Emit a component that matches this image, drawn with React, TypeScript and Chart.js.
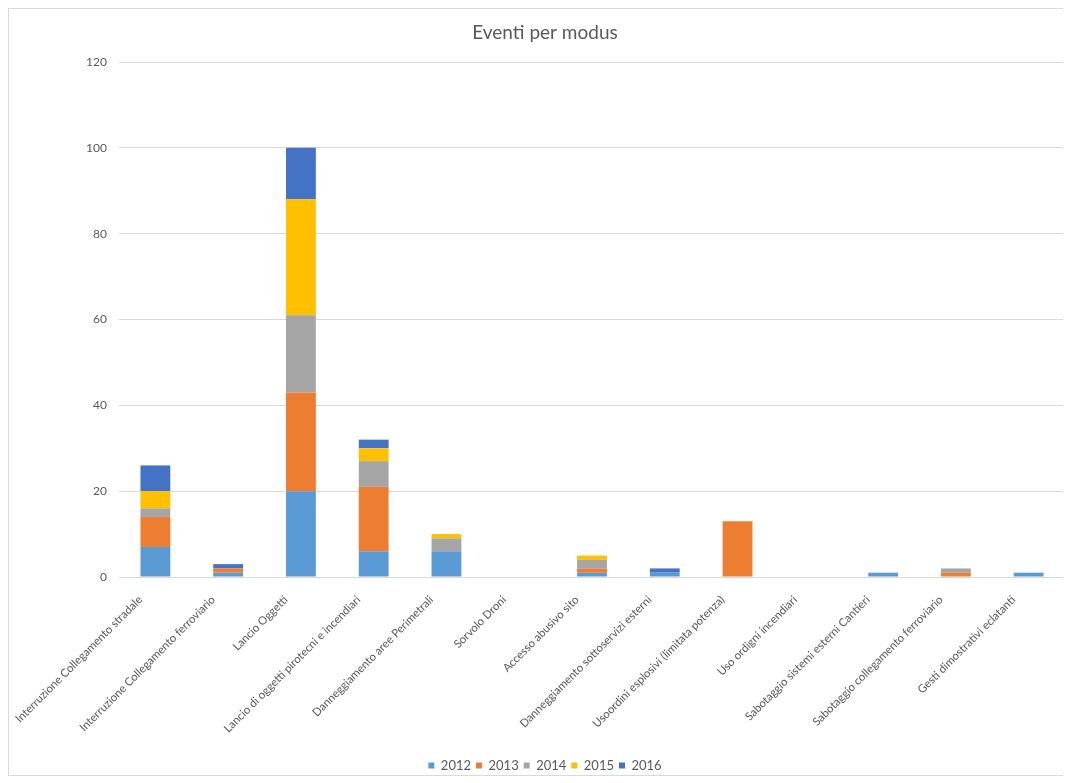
import React, { useEffect, useRef } from "react";
import { Chart, registerables } from "chart.js";

Chart.register(...registerables);

const chartTitle = "Eventi per modus";

const categories = [
  "Interruzione Collegamento stradale",
  "Interruzione Collegamento ferroviario",
  "Lancio Oggetti",
  "Lancio di oggetti pirotecni e incendiari",
  "Danneggiamento aree Perimetrali",
  "Sorvolo Droni",
  "Accesso abusivo sito",
  "Danneggiamento sottoservizi esterni",
  "Usoordini esplosivi (limitata potenza)",
  "Uso ordigni incendiari",
  "Sabotaggio sistemi esterni Cantieri",
  "Sabotaggio collegamento ferroviario",
  "Gesti dimostrativi eclatanti",
];

const seriesNames = ["2012", "2013", "2014", "2015", "2016"];

const values2012 = [7, 1, 20, 6, 6, 0, 1, 1, 0, 0, 1, 0, 1];
const values2013 = [7, 1, 23, 15, 0, 0, 1, 0, 13, 0, 0, 1, 0];
const values2014 = [2, 0, 18, 6, 3, 0, 2, 0, 0, 0, 0, 1, 0];
const values2015 = [4, 0, 27, 3, 1, 0, 1, 0, 0, 0, 0, 0, 0];
const values2016 = [6, 1, 12, 2, 0, 0, 0, 1, 0, 0, 0, 0, 0];

const seriesColors = ["#5B9BD5", "#ED7D31", "#A5A5A5", "#FFC000", "#4472C4"];

const yMin = 0;
const yMax = 120;
const yStep = 20;

const FONT = "Lato";
const TEXT = "#595959";
const GRID = "#d9d9d9";

export default function App() {
  const ref = useRef<HTMLCanvasElement>(null);

  useEffect(() => {
    document.documentElement.style.overflow = "hidden";
    const all = [values2012, values2013, values2014, values2015, values2016];
    const chart = new Chart(ref.current as HTMLCanvasElement, {
      type: "bar",
      data: {
        labels: categories,
        datasets: all.map((vals, i) => ({
          label: seriesNames[i],
          data: vals,
          backgroundColor: seriesColors[i],
          borderWidth: 0,
          barPercentage: 0.41,
          categoryPercentage: 1,
        })),
      },
      options: {
        responsive: false,
        animation: false,
        devicePixelRatio: 1,
        layout: { padding: { left: 16, right: 16, top: 0, bottom: 0 } },
        plugins: {
          title: {
            display: true,
            text: chartTitle,
            color: TEXT,
            font: { family: FONT, size: 19, weight: "normal" },
            padding: { top: 12.6, bottom: 17.6 },
          },
          legend: {
            position: "bottom",
            labels: {
              boxWidth: 6,
              boxHeight: 6,
              padding: 5,
              color: TEXT,
              font: { family: FONT, size: 13 },
            },
          },
          tooltip: { enabled: false },
        },
        scales: {
          x: {
            stacked: true,
            grid: { display: false, drawTicks: false },
            border: { color: GRID },
            ticks: {
              minRotation: 45,
              maxRotation: 45,
              autoSkip: false,
              padding: 16,
              labelOffset: -15,
              color: TEXT,
              font: { family: FONT, size: 11.3 },
            },
            afterFit: (s: any) => {
              s.height = 177;
              s.paddingLeft = 0;
              s.paddingRight = 0;
            },
          },
          y: {
            stacked: true,
            min: yMin,
            max: yMax,
            ticks: {
              stepSize: yStep,
              padding: 12,
              color: TEXT,
              font: { family: FONT, size: 12 },
            },
            grid: { color: GRID, drawTicks: false },
            border: { display: false },
            afterFit: (s: any) => {
              s.width = 94;
            },
          },
        },
      },
    });
    return () => chart.destroy();
  }, []);

  return (
    <div
      style={{
        position: "relative",
        width: 1058,
        height: 766,
        border: "1px solid #d9d9d9",
        background: "#fff",
      }}
    >
      <canvas
        ref={ref}
        width={1072}
        height={773}
        style={{ position: "absolute", left: 0, top: 0, display: "block" }}
      />
    </div>
  );
}
